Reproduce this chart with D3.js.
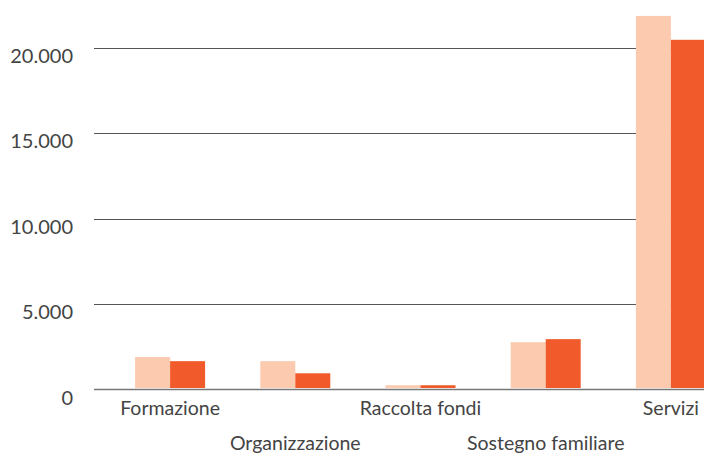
<!DOCTYPE html>
<html><head><meta charset="utf-8">
<script src="https://cdn.jsdelivr.net/npm/d3@7"></script>
<style>body{margin:0;background:#fff;} text{font-family:Lato,"Open Sans",sans-serif;}</style>
</head><body><svg id="c" width="704" height="454"></svg>
<script>
const categories = ["Formazione","Organizzazione","Raccolta fondi","Sostegno familiare","Servizi"];
const seriesNames = ["Anno precedente","Anno corrente"];
const seriesA = [1900, 1660, 250, 2770, 21880];
const seriesB = [1660, 950, 250, 2950, 20480];
const yTicks = [0, 5000, 10000, 15000, 20000];
const tickLabels = ["0","5.000","10.000","15.000","20.000"];
const colors = ["#FCCAAE","#F15A2B"];

const svg = d3.select("#c");
const y = d3.scaleLinear().domain([0,20000]).range([389.5,48]);
const x = d3.scaleBand().domain(categories).range([107.5,733.5]).padding(0);
const xs = d3.scaleBand().domain(seriesNames).range([0,70]);
const off = (x.bandwidth()-70)/2;

// gridlines
const grid = svg.append("g");
grid.selectAll("line").data(yTicks.filter(d=>d>0)).join("line")
  .attr("x1",94).attr("x2",704)
  .attr("y1",d=>Math.round(y(d))+0.5).attr("y2",d=>Math.round(y(d))+0.5)
  .attr("stroke","#555").attr("stroke-width",1);

// bars
const data = categories.map((c,i)=>({c, vals:[seriesA[i],seriesB[i]]}));
const g = svg.append("g");
g.selectAll("g").data(data).join("g")
  .attr("transform",d=>`translate(${x(d.c)+off},0)`)
  .selectAll("rect").data(d=>d.vals.map((v,j)=>({v,s:seriesNames[j],j})))
  .join("rect")
  .attr("x",d=>xs(d.s)).attr("width",xs.bandwidth())
  .attr("y",d=>y(d.v)).attr("height",d=>388-y(d.v))
  .attr("fill",d=>colors[d.j]);

// baseline
svg.append("line").attr("x1",94).attr("x2",704)
  .attr("y1",389.5).attr("y2",389.5).attr("stroke","#777").attr("stroke-width",1.5);

// y labels
svg.append("g").selectAll("text").data(yTicks).join("text")
  .attr("x",73).attr("y",d=>y(d)+15)
  .attr("text-anchor","end").attr("font-size",20).attr("fill","#444")
  .text((d,i)=>tickLabels[i]);

// x labels staggered
svg.append("g").selectAll("text").data(categories).join("text")
  .attr("x",d=>x(d)+x.bandwidth()/2)
  .attr("y",(d,i)=> i%2===0 ? 415 : 450)
  .attr("text-anchor","middle").attr("font-size",19.5).attr("fill","#444")
  .text(d=>d);
</script></body></html>
